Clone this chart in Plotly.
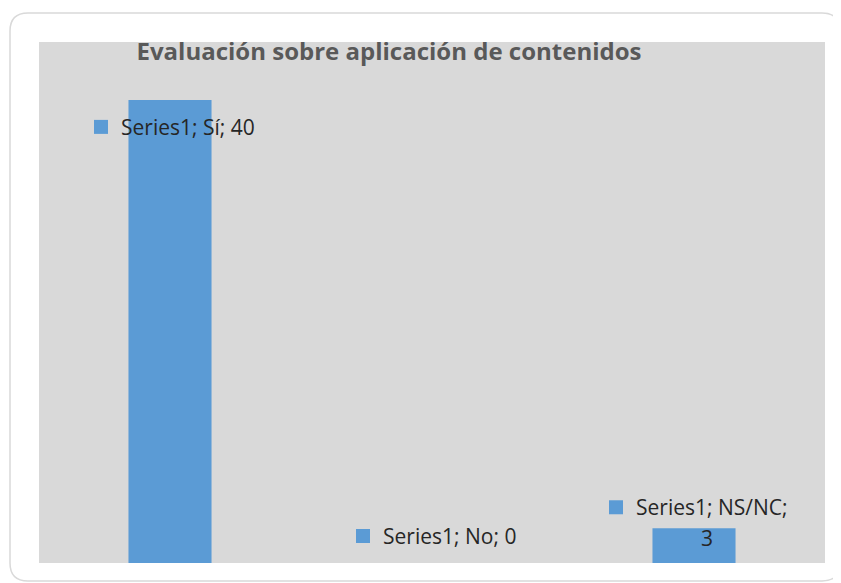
import plotly.graph_objects as go

categorias = ["Sí", "No", "NS/NC"]
valores = [40, 0, 3]
serie = "Series1"
titulo = "Evaluación sobre aplicación de contenidos"

AZUL = "#5B9BD5"
GRIS = "#D9D9D9"
TEXTO = "#262626"
FUENTE = "Open Sans"

# la pagina tiene 8px de margen en el body, asi que la figura es 8px menor
W, H = 833, 575
L, R, T, B = 31, 16, 34, 20

fig = go.Figure()
fig.add_trace(go.Bar(
    x=categorias,
    y=valores,
    marker=dict(color=AZUL, line=dict(width=0)),
    hoverinfo="skip",
))

# offsets (px) de cada etiqueta respecto a la parte superior de su barra
# (cuadro_x0, texto_x, centro_y, en dos lineas)
offsets = {
    "Sí": (-76, -51, -27, False),
    "No": (-76, -51, 27, False),
    "NS/NC": (-85, -60, 21, True),
}

for cat, val in zip(categorias, valores):
    cx, tx, dy, partir = offsets[cat]
    fig.add_shape(
        type="rect", xref="x", yref="y",
        xsizemode="pixel", ysizemode="pixel",
        xanchor=cat, yanchor=val,
        x0=cx, x1=cx + 14, y0=dy - 7, y1=dy + 7,
        fillcolor=AZUL, line=dict(width=0),
    )
    if partir:
        fig.add_annotation(
            x=cat, y=val, text=f"{serie}; {cat};", showarrow=False,
            font=dict(family=FUENTE, size=21, color=TEXTO),
            xshift=tx, yshift=dy, xanchor="left", yanchor="middle",
        )
        fig.add_annotation(
            x=cat, y=val, text=f"{val}", showarrow=False,
            font=dict(family=FUENTE, size=21, color=TEXTO),
            xshift=13, yshift=dy - 31, xanchor="center", yanchor="middle",
        )
    else:
        fig.add_annotation(
            x=cat, y=val, text=f"{serie}; {cat}; {val}", showarrow=False,
            font=dict(family=FUENTE, size=21, color=TEXTO),
            xshift=tx, yshift=dy, xanchor="left", yanchor="middle",
        )

# marco redondeado del grafico
pw, ph = W - L - R, H - T - B
def px(x): return (x - L) / pw
def py(y): return (H - B - y) / ph
x0, x1, y0, y1, r = 2, 832, 5, 573, 18
rx, ry = r / pw, r / ph
path = (f"M {px(x0)+rx},{py(y0)} L {px(x1)-rx},{py(y0)} "
        f"Q {px(x1)},{py(y0)} {px(x1)},{py(y0)-ry} "
        f"L {px(x1)},{py(y1)+ry} Q {px(x1)},{py(y1)} {px(x1)-rx},{py(y1)} "
        f"L {px(x0)+rx},{py(y1)} Q {px(x0)},{py(y1)} {px(x0)},{py(y1)+ry} "
        f"L {px(x0)},{py(y0)-ry} Q {px(x0)},{py(y0)} {px(x0)+rx},{py(y0)} Z")
fig.add_shape(type="path", path=path, xref="paper", yref="paper",
              line=dict(color="#D9D9D9", width=1.5), layer="below")

fig.update_layout(
    width=W, height=H,
    margin=dict(l=L, r=R, t=T, b=B),
    paper_bgcolor="white",
    plot_bgcolor=GRIS,
    bargap=0.683,
    showlegend=False,
    title=dict(
        text=f"<b>{titulo}</b>",
        font=dict(family=FUENTE, size=24, color="#595959"),
        x=381 / W, xanchor="center",
        y=1 - 44 / H, yanchor="middle",
    ),
    xaxis=dict(visible=False),
    yaxis=dict(visible=False, range=[0, 45]),
)

fig.write_html("out.html")
